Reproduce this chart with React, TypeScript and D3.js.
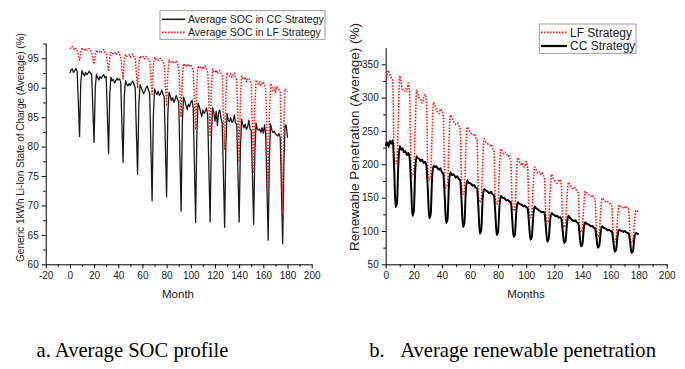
import React, { useEffect, useRef } from 'react';
import * as d3 from 'd3';

// months 0..180
const months = d3.range(0, 181);

// (a) average SOC, one row per year (12 months), plus month 180
const socCC = [
  92.5, 93.0, 93.2, 92.6, 92.9, 93.3, 92.8, 87.5, 81.7, 90.8, 92.9, 92.4,
  92.0, 92.6, 92.2, 92.5, 92.8, 92.5, 92.3, 86.5, 80.7, 90.0, 92.3, 91.7,
  91.3, 91.9, 91.6, 92.0, 92.2, 91.7, 91.9, 85.5, 78.8, 89.0, 91.8, 91.2,
  91.4, 90.8, 91.2, 91.6, 91.3, 91.5, 91.0, 84.0, 77.3, 88.5, 91.2, 90.6,
  90.3, 90.7, 90.4, 90.9, 91.1, 90.6, 90.0, 82.5, 75.3, 87.0, 90.5, 90.0,
  89.5, 89.0, 89.4, 90.0, 90.3, 89.6, 89.0, 80.0, 70.8, 85.0, 89.8, 89.2,
  88.8, 89.4, 88.7, 89.0, 89.6, 88.9, 88.5, 80.0, 71.5, 85.5, 89.2, 88.6,
  87.8, 88.3, 87.5, 88.0, 88.7, 88.0, 87.6, 78.5, 69.0, 84.0, 88.4, 87.8,
  87.0, 86.3, 87.2, 86.8, 87.5, 87.9, 86.6, 77.0, 67.1, 82.0, 87.4, 86.8,
  86.0, 85.1, 86.2, 85.6, 86.0, 86.6, 85.2, 76.0, 67.2, 81.5, 86.6, 85.8,
  84.3, 86.0, 83.6, 85.8, 86.2, 84.8, 84.0, 75.0, 66.3, 80.0, 85.6, 84.5,
  84.2, 84.9, 84.1, 84.3, 85.4, 84.0, 83.8, 75.5, 67.2, 79.5, 84.6, 83.8,
  83.2, 83.8, 82.9, 83.3, 84.5, 83.0, 82.7, 75.0, 66.8, 79.0, 84.0, 83.0,
  82.8, 83.0, 82.4, 83.2, 82.3, 83.7, 82.0, 73.0, 64.1, 78.0, 83.8, 82.8,
  82.4, 82.6, 82.2, 82.0, 81.8, 82.2, 81.5, 72.5, 63.5, 77.0, 83.7, 83.5,
  81.5,
];

const socLF = [
  96.6, 96.9, 97.0, 96.8, 96.4, 96.7, 96.3, 95.6, 94.7, 96.0, 96.8, 96.5,
  96.3, 96.6, 96.4, 96.7, 96.6, 96.3, 96.0, 95.0, 94.0, 95.6, 96.4, 96.1,
  95.9, 96.2, 96.0, 96.3, 96.5, 96.0, 95.7, 94.3, 92.8, 95.0, 96.0, 95.7,
  95.9, 96.0, 95.6, 95.8, 96.1, 95.7, 95.3, 93.4, 91.5, 94.5, 95.6, 95.3,
  95.5, 95.6, 95.2, 95.4, 95.7, 95.3, 94.9, 92.4, 89.9, 94.0, 95.4, 95.1,
  95.2, 95.3, 94.9, 95.3, 95.1, 94.8, 94.5, 91.7, 88.9, 93.5, 95.1, 94.8,
  94.9, 94.6, 94.9, 95.0, 94.7, 94.4, 94.0, 90.5, 86.9, 92.5, 94.7, 94.3,
  94.4, 94.2, 94.5, 94.3, 94.6, 94.1, 93.6, 89.3, 85.0, 91.5, 94.1, 93.8,
  93.9, 93.6, 94.0, 93.7, 93.9, 93.5, 93.0, 88.0, 82.9, 90.5, 93.7, 93.3,
  93.5, 93.2, 93.6, 93.4, 93.7, 93.1, 92.6, 87.2, 81.7, 90.0, 93.2, 92.8,
  92.6, 93.0, 92.4, 92.8, 92.9, 92.5, 92.0, 85.7, 79.4, 89.0, 92.6, 92.2,
  92.0, 92.4, 91.8, 92.2, 92.5, 91.8, 91.3, 84.3, 77.4, 88.0, 92.0, 91.6,
  91.4, 91.8, 91.0, 91.5, 91.6, 91.2, 90.6, 83.0, 75.5, 87.0, 91.3, 90.9,
  90.6, 91.0, 90.4, 90.8, 91.0, 90.3, 89.8, 81.0, 72.3, 85.5, 90.7, 90.2,
  89.5, 90.0, 89.2, 90.2, 89.9, 89.6, 89.2, 79.0, 68.7, 84.0, 89.8, 89.5,
  89.3,
];

// (b) average renewable penetration
const renLF = [
  325, 333, 341, 334, 330, 326, 215, 201, 206, 270, 333, 324,
  311, 310, 314, 309, 322, 306, 195, 182, 188, 255, 312, 305,
  298, 296, 292, 300, 305, 293, 190, 177, 182, 245, 293, 288,
  283, 278, 276, 283, 280, 272, 178, 165, 170, 232, 274, 270,
  265, 262, 260, 262, 258, 255, 168, 155, 160, 220, 256, 252,
  248, 246, 244, 246, 240, 236, 155, 143, 148, 205, 238, 234,
  232, 230, 228, 230, 224, 220, 150, 140, 145, 195, 223, 220,
  216, 218, 214, 215, 210, 205, 140, 130, 136, 180, 210, 206,
  200, 202, 197, 196, 204, 194, 130, 120, 126, 170, 196, 192,
  187, 189, 185, 188, 184, 180, 122, 111, 118, 158, 185, 180,
  176, 174, 172, 175, 177, 168, 115, 106, 112, 148, 173, 170,
  166, 164, 163, 165, 160, 157, 108, 98, 104, 138, 160, 157,
  155, 154, 152, 154, 150, 147, 101, 92, 98, 128, 149, 148,
  145, 143, 144, 142, 140, 136, 92, 84, 90, 118, 139, 137,
  136, 135, 137, 134, 136, 130, 90, 82, 86, 112, 131, 130,
  129,
];

const renCC = [
  228, 233, 226, 235, 231, 236, 195, 136, 142, 200, 228, 222,
  224, 218, 220, 214, 217, 210, 172, 123, 130, 190, 212, 209,
  208, 205, 207, 202, 204, 198, 162, 119, 125, 178, 198, 196,
  197, 194, 192, 194, 188, 186, 152, 112, 118, 168, 188, 184,
  185, 183, 180, 182, 178, 176, 145, 106, 112, 158, 176, 172,
  172, 170, 168, 169, 165, 164, 134, 96, 102, 148, 163, 161,
  160, 158, 157, 159, 155, 154, 128, 94, 99, 138, 153, 150,
  150, 148, 146, 147, 144, 143, 120, 91, 95, 130, 143, 141,
  140, 139, 137, 138, 136, 134, 112, 87, 91, 122, 137, 134,
  133, 131, 130, 128, 129, 127, 106, 84, 88, 115, 127, 125,
  124, 122, 123, 120, 121, 118, 100, 82, 85, 110, 123, 120,
  118, 116, 115, 116, 113, 112, 95, 77, 80, 104, 113, 111,
  110, 109, 107, 108, 105, 104, 90, 75, 78, 98, 107, 105,
  104, 103, 101, 102, 100, 99, 85, 69, 72, 92, 102, 101,
  100, 99, 100, 98, 97, 96, 82, 67, 70, 90, 97, 96,
  95,
];

const socTicksY = [60, 65, 70, 75, 80, 85, 90, 95];
const socTicksX = [-20, 0, 20, 40, 60, 80, 100, 120, 140, 160, 180, 200];
const renTicksY = [50, 100, 150, 200, 250, 300, 350];
const renTicksX = [0, 20, 40, 60, 80, 100, 120, 140, 160, 180, 200];

const FONT = 'Liberation Sans, Arial, sans-serif';
const RED = '#ff1a1a';

const panels = [
  {
    xDomain: [-20, 200], yDomain: [60, 97.6],
    left: 45.7, right: 311.7, top: 43, bottom: 264.3,
    xTicks: socTicksX, yTicks: socTicksY, xMinor: 10, yMinor: 2.5,
    xTitle: 'Month', xTitleX: 178,
    yTitle: 'Generic 1kWh Li-Ion State of Charge (Average) (%)', yTitleX: 24, yTitleY: 147.5, yTitleSize: 10,
    series: [
      { name: 'Average SOC in CC Strategy', values: socCC, color: '#1a1a1a', dash: null, width: 1.3 },
      { name: 'Average SOC in LF Strategy', values: socLF, color: RED, dash: '1.6,1.4', width: 1.5 },
    ],
    curve: d3.curveLinear,
    legend: { x: 160, y: 10.7, w: 165, h: 28.6, size: 10.5, rows: [19.3, 32.3], sample: [162, 185], text: 188 },
    caption: 'a. Average SOC profile', capX: 36.5,
  },
  {
    xDomain: [0, 200], yDomain: [50, 375],
    left: 385.7, right: 666.7, top: 47.7, bottom: 264.3,
    xTicks: renTicksX, yTicks: renTicksY, xMinor: 10, yMinor: 25,
    xTitle: 'Months', xTitleX: 526,
    yTitle: 'Renewable Penetration (Average) (%)', yTitleX: 358.5, yTitleY: 137, yTitleSize: 13.5,
    series: [
      { name: 'LF Strategy', values: renLF, color: RED, dash: '1.6,1.4', width: 1.6 },
      { name: 'CC Strategy', values: renCC, color: '#000000', dash: null, width: 2 },
    ],
    curve: d3.curveMonotoneX,
    legend: { x: 539.3, y: 24, w: 96.7, h: 29.3, size: 12, rows: [32.3, 46], sample: [541, 567], text: 570 },
    caption: 'b.\u00a0\u00a0\u00a0Average renewable penetration', capX: 369.3,
  },
];

function drawPanel(svg: any, p: any) {
  const x = d3.scaleLinear().domain(p.xDomain).range([p.left, p.right]);
  const y = d3.scaleLinear().domain(p.yDomain).range([p.bottom, p.top]);
  const g = svg.append('g');

  const xMinor = d3.range(p.xDomain[0], p.xDomain[1] + 0.01, p.xMinor).filter((v: number) => !p.xTicks.includes(v));
  const yMinor = d3.range(p.yDomain[0], p.yDomain[1], p.yMinor).filter((v: number) => !p.yTicks.includes(v));

  const styleAxis = (a: any) => {
    a.select('.domain').attr('stroke', '#000').attr('stroke-width', 1);
    a.selectAll('.tick line').attr('stroke', '#000');
    a.selectAll('text').attr('font-family', FONT).attr('font-size', 10).attr('fill', '#222');
  };

  const gx = g.append('g').attr('transform', `translate(0,${p.bottom})`)
    .call(d3.axisBottom(x).tickValues(p.xTicks).tickSize(4).tickPadding(4).tickSizeOuter(0).tickFormat(d3.format('d')));
  styleAxis(gx);
  gx.selectAll('text').text((d: number) => (d < 0 ? '-' + Math.abs(d) : String(d)));
  const gxm = g.append('g').attr('transform', `translate(0,${p.bottom})`)
    .call(d3.axisBottom(x).tickValues(xMinor).tickSize(2.5).tickFormat(() => ''));
  gxm.select('.domain').remove();
  gxm.selectAll('.tick line').attr('stroke', '#000');

  const gy = g.append('g').attr('transform', `translate(${p.left},0)`)
    .call(d3.axisLeft(y).tickValues(p.yTicks).tickSize(4).tickPadding(3).tickSizeOuter(0).tickFormat(d3.format('d')));
  styleAxis(gy);
  const gym = g.append('g').attr('transform', `translate(${p.left},0)`)
    .call(d3.axisLeft(y).tickValues(yMinor).tickSize(2.5).tickFormat(() => ''));
  gym.select('.domain').remove();
  gym.selectAll('.tick line').attr('stroke', '#000');

  // data lines
  p.series.forEach((s: any) => {
    const line = d3.line<number>()
      .x((d, i) => x(months[i]))
      .y((d) => y(d))
      .curve(p.curve);
    g.append('path')
      .attr('d', line(s.values))
      .attr('fill', 'none')
      .attr('stroke', s.color)
      .attr('stroke-width', s.width)
      .attr('stroke-dasharray', s.dash)
      .attr('stroke-linejoin', 'round');
  });

  // axis titles
  g.append('text')
    .attr('x', p.xTitleX).attr('y', 297.5)
    .attr('text-anchor', 'middle')
    .attr('font-family', FONT).attr('font-size', 11.5).attr('fill', '#222')
    .text(p.xTitle);
  g.append('text')
    .attr('transform', `translate(${p.yTitleX},${p.yTitleY}) rotate(-90)`)
    .attr('text-anchor', 'middle')
    .attr('font-family', FONT).attr('font-size', p.yTitleSize).attr('fill', '#222')
    .text(p.yTitle);

  // legend
  const L = p.legend;
  g.append('rect')
    .attr('x', L.x).attr('y', L.y).attr('width', L.w).attr('height', L.h)
    .attr('fill', '#fff').attr('stroke', '#888').attr('stroke-width', 0.8);
  p.series.forEach((s: any, i: number) => {
    const ry = L.rows[i];
    g.append('line')
      .attr('x1', L.sample[0]).attr('x2', L.sample[1]).attr('y1', ry).attr('y2', ry)
      .attr('stroke', s.color).attr('stroke-width', s.width + 0.2)
      .attr('stroke-dasharray', s.dash);
    g.append('text')
      .attr('x', L.text).attr('y', ry + L.size * 0.36)
      .attr('font-family', FONT).attr('font-size', L.size).attr('fill', '#222')
      .text(s.name);
  });

  // caption
  g.append('text')
    .attr('x', p.capX).attr('y', 357)
    .attr('font-family', 'Liberation Serif, Times New Roman, serif').attr('font-size', 20.6).attr('fill', '#000')
    .text(p.caption);
}

export default function App() {
  const ref = useRef<SVGSVGElement>(null);

  useEffect(() => {
    const svg = d3.select(ref.current);
    svg.selectAll('*').remove();
    svg.append('rect').attr('width', 685).attr('height', 369).attr('fill', '#fff');
    panels.forEach((p) => drawPanel(svg, p));
  }, []);

  return (
    <svg
      ref={ref}
      width={685}
      height={369}
      style={{ position: 'absolute', left: 0, top: 0, background: '#fff' }}
    />
  );
}
